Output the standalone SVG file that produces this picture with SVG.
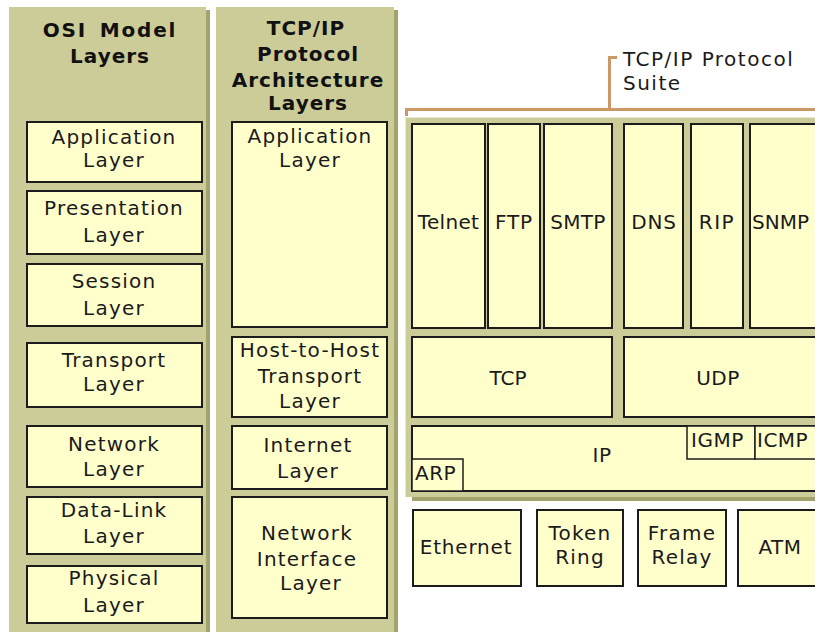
<svg xmlns="http://www.w3.org/2000/svg" width="815" height="632" viewBox="0 0 815 632">
<style>
.panel{fill:#CCCC99;}
.shadow{fill:#A3A36E;}
.box{fill:#FFFFCC;stroke:#1c1c1c;stroke-width:2;}
.sbox{fill:#FFFFCC;stroke:#1c1c1c;stroke-width:1.5;}
.t{font-family:"DejaVu Sans","Verdana",sans-serif;font-size:20px;fill:#1a1a1a;text-anchor:middle;letter-spacing:1.2px;}
.tl{font-family:"DejaVu Sans","Verdana",sans-serif;font-size:20px;fill:#1a1a1a;text-anchor:start;letter-spacing:1px;}
.h{font-family:"DejaVu Sans","Verdana",sans-serif;font-size:20px;font-weight:bold;fill:#111;text-anchor:middle;letter-spacing:1px;}
.br{fill:none;stroke:#CC9966;stroke-width:3;}
</style>
<rect width="815" height="632" fill="#FFFFFF"/>

<g id="osi-panel">
<rect class="shadow" x="206" y="10" width="4" height="622"/>
<rect class="panel" x="9" y="7" width="197" height="625"/>
<text class="h" x="110" y="37" style="letter-spacing:1.8px;word-spacing:4px">OSI Model</text>
<text class="h" x="110" y="63">Layers</text>
</g>
<g id="osi-application"><rect class="box" x="27" y="122" width="175" height="60"/><text class="t" x="114" y="144">Application</text><text class="t" x="114" y="167">Layer</text></g>
<g id="osi-presentation"><rect class="box" x="27" y="191" width="175" height="63"/><text class="t" x="114" y="215">Presentation</text><text class="t" x="114" y="242">Layer</text></g>
<g id="osi-session"><rect class="box" x="27" y="264" width="175" height="62"/><text class="t" x="114" y="288">Session</text><text class="t" x="114" y="315">Layer</text></g>
<g id="osi-transport"><rect class="box" x="27" y="343" width="175" height="64"/><text class="t" x="114" y="367">Transport</text><text class="t" x="114" y="391">Layer</text></g>
<g id="osi-network"><rect class="box" x="27" y="426" width="175" height="61"/><text class="t" x="114" y="451">Network</text><text class="t" x="114" y="476">Layer</text></g>
<g id="osi-datalink"><rect class="box" x="27" y="497" width="175" height="57"/><text class="t" x="114" y="517">Data-Link</text><text class="t" x="114" y="543">Layer</text></g>
<g id="osi-physical"><rect class="box" x="27" y="566" width="175" height="57"/><text class="t" x="114" y="585">Physical</text><text class="t" x="114" y="612">Layer</text></g>

<g id="tcpip-panel">
<rect class="shadow" x="394" y="10" width="4" height="622"/>
<rect class="panel" x="216" y="7" width="178" height="625"/>
<text class="h" x="306" y="35">TCP/IP</text>
<text class="h" x="308" y="61">Protocol</text>
<text class="h" x="308" y="87">Architecture</text>
<text class="h" x="308" y="110">Layers</text>
</g>
<g id="arch-application"><rect class="box" x="232" y="122" width="155" height="205"/><text class="t" x="310" y="143">Application</text><text class="t" x="310" y="167">Layer</text></g>
<g id="arch-transport"><rect class="box" x="232" y="337" width="155" height="80"/><text class="t" x="310" y="357">Host-to-Host</text><text class="t" x="310" y="383">Transport</text><text class="t" x="310" y="408">Layer</text></g>
<g id="arch-internet"><rect class="box" x="232" y="426" width="155" height="63"/><text class="t" x="308" y="452">Internet</text><text class="t" x="308" y="478">Layer</text></g>
<g id="arch-netif"><rect class="box" x="232" y="497" width="155" height="121"/><text class="t" x="307" y="540">Network</text><text class="t" x="307" y="566">Interface</text><text class="t" x="311" y="590">Layer</text></g>

<g id="suite-panel">
<rect class="shadow" x="412" y="497" width="403" height="4"/>
<rect class="panel" x="405" y="117" width="410" height="380"/>
<path d="M405.5 497 V117.5 H815" fill="none" stroke="#E9E9CF" stroke-width="1"/>
</g>

<g id="connectors">
<path class="br" d="M406.5 116 V109.5 H815"/>
<path class="br" d="M609.5 109.5 V57.5 H617"/>
</g>
<g id="suite-label">
<text class="tl" x="623" y="66" style="letter-spacing:1.5px">TCP/IP Protocol</text>
<text class="tl" x="623" y="90" style="letter-spacing:1.5px">Suite</text>
</g>

<g id="telnet"><rect class="box" x="412" y="124" width="73" height="204"/><text class="t" x="448.5" y="229" style="letter-spacing:0.3px">Telnet</text></g>
<g id="ftp"><rect class="box" x="488" y="124" width="52" height="204"/><text class="t" x="514" y="229" style="letter-spacing:0.8px">FTP</text></g>
<g id="smtp"><rect class="box" x="544" y="124" width="68" height="204"/><text class="t" x="578" y="229" style="letter-spacing:0.3px">SMTP</text></g>
<g id="dns"><rect class="box" x="624" y="124" width="59" height="204"/><text class="t" x="654" y="229" style="letter-spacing:0.8px">DNS</text></g>
<g id="rip"><rect class="box" x="691" y="124" width="52" height="204"/><text class="t" x="717" y="229" style="letter-spacing:1.5px">RIP</text></g>
<g id="snmp"><rect class="box" x="750" y="124" width="70" height="204"/><text class="tl" x="752" y="229" style="letter-spacing:0px">SNMP</text></g>

<g id="tcp"><rect class="box" x="412" y="337" width="200" height="80"/><text class="t" x="508" y="385" style="letter-spacing:0px">TCP</text></g>
<g id="udp"><rect class="box" x="624" y="337" width="196" height="80"/><text class="t" x="718" y="385" style="letter-spacing:0.5px">UDP</text></g>

<g id="ip"><rect class="box" x="412" y="426" width="408" height="65"/><text class="t" x="602" y="462" style="letter-spacing:0.5px">IP</text></g>
<g id="igmp"><rect class="sbox" x="687" y="426" width="68" height="33"/><text class="tl" x="691" y="447" style="letter-spacing:0.5px">IGMP</text></g>
<g id="icmp"><rect class="sbox" x="755" y="426" width="65" height="33"/><text class="tl" x="757" y="447" style="letter-spacing:0.5px">ICMP</text></g>
<g id="arp"><rect class="sbox" x="412" y="459" width="51" height="32"/><text class="tl" x="415" y="480" style="letter-spacing:0.5px">ARP</text></g>

<g id="ethernet"><rect class="box" x="413" y="510" width="108" height="76"/><text class="t" x="466" y="554" style="letter-spacing:0.8px">Ethernet</text></g>
<g id="tokenring"><rect class="box" x="537" y="510" width="86" height="76"/><text class="t" x="580" y="540">Token</text><text class="t" x="580" y="564">Ring</text></g>
<g id="framerelay"><rect class="box" x="638" y="510" width="88" height="76"/><text class="t" x="682" y="540">Frame</text><text class="t" x="682" y="564">Relay</text></g>
<g id="atm"><rect class="box" x="738" y="510" width="82" height="76"/><text class="t" x="780" y="554" style="letter-spacing:0.5px">ATM</text></g>
</svg>
